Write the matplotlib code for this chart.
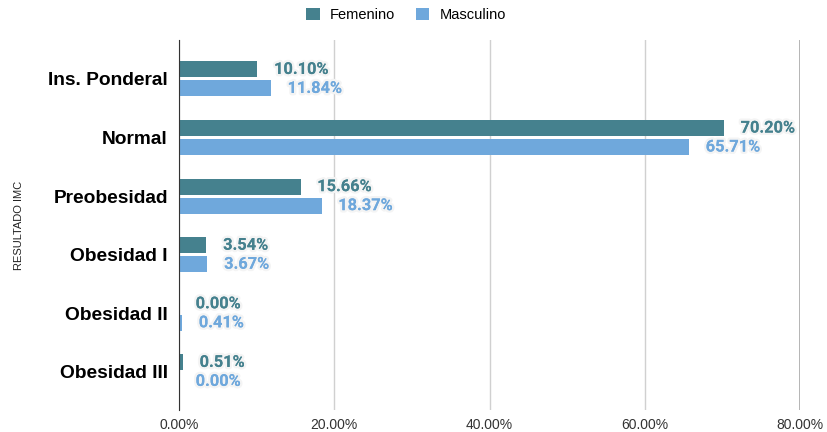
import matplotlib.pyplot as plt
import matplotlib.patheffects as pe
from matplotlib.ticker import FuncFormatter
import numpy as np

# Datos del gráfico
categorias = ['Ins. Ponderal', 'Normal', 'Preobesidad', 'Obesidad I', 'Obesidad II', 'Obesidad III']
femenino = [10.10, 70.20, 15.66, 3.54, 0.00, 0.51]
masculino = [11.84, 65.71, 18.37, 3.67, 0.41, 0.00]

col_fem = '#45818e'
col_mas = '#6fa8dc'

fig = plt.figure(figsize=(8.27, 4.32), dpi=100)
ax = fig.add_axes([179 / 827, 1 - 410 / 432, (800 - 179) / 827, 370 / 432])

y = np.arange(len(categorias))
off = 0.162
alto = 0.273
b1 = ax.barh(y - off, femenino, height=alto, color=col_fem, label='Femenino', zorder=3)
b2 = ax.barh(y + off, masculino, height=alto, color=col_mas, label='Masculino', zorder=3)

# etiquetas de valor con borde blanco
for barras, vals, col in [(b1, femenino, col_fem), (b2, masculino, col_mas)]:
    for rect, v in zip(barras, vals):
        ax.annotate(f'{v:.2f}%', (v, rect.get_y() + rect.get_height() / 2),
                    xytext=(12, 0), textcoords='offset points',
                    va='center', ha='left', fontsize=11.8, fontweight='bold',
                    color=col, family='Roboto', zorder=4,
                    path_effects=[pe.withStroke(linewidth=3.5, foreground='#f4f4f4'),
                                  pe.Normal()])

ax.set_xlim(0, 80)
ax.set_ylim(5.65, -0.665)
ax.set_xticks([0, 20, 40, 60, 80])
ax.xaxis.set_major_formatter(FuncFormatter(lambda x, p: f'{x:.2f}%'))
ax.set_yticks(y)
ax.set_yticklabels(categorias, fontsize=13.8, fontweight='bold', family='Liberation Sans')
for t in ax.get_xticklabels():
    t.set_family('Liberation Sans')
    t.set_fontsize(10)
    t.set_color('#333333')
ax.tick_params(axis='both', length=0)
ax.tick_params(axis='y', pad=8)
ax.tick_params(axis='x', pad=6)

ax.grid(axis='x', color='#d0d0d0', linewidth=1, zorder=0)
ax.set_axisbelow(True)
for s in ['top', 'right', 'bottom']:
    ax.spines[s].set_visible(False)
ax.spines['left'].set_color('#333333')
ax.spines['left'].set_zorder(5)
ax.axvline(80, color='#aaaaaa', linewidth=1.2, zorder=1)

ax.set_ylabel('RESULTADO IMC', fontsize=8, family='Liberation Sans', color='#222222')
ax.yaxis.set_label_coords((24 - 179) / 621, 0.5)

fig.legend(handles=[b1, b2], loc='center', bbox_to_anchor=(406 / 827, 1 - 15 / 432), ncol=2,
           frameon=False, prop={'family': 'Liberation Sans', 'size': 10.5},
           handlelength=0.95, handleheight=0.95, columnspacing=1.4, handletextpad=0.7)

fig.savefig('out.png', dpi=100)
